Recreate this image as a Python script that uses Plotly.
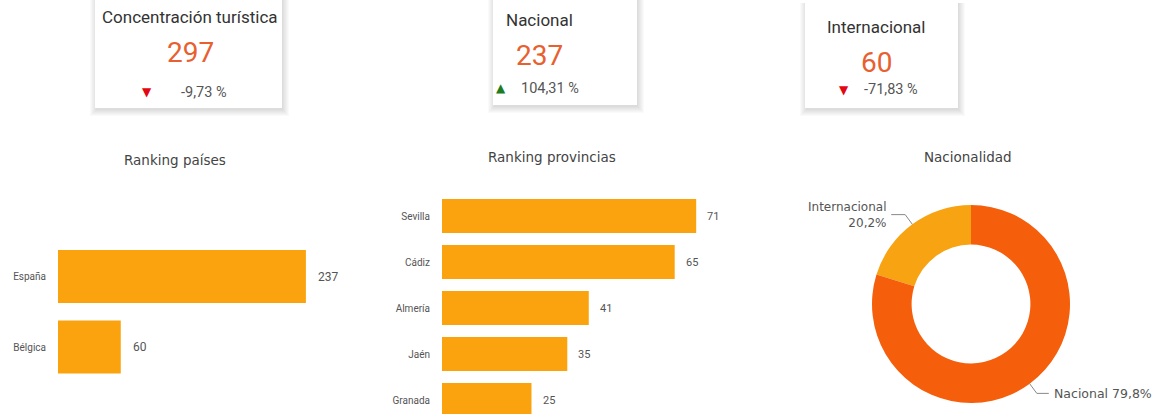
import math
import plotly.graph_objects as go

# ---------------- data ----------------
kpi_titles = ["Concentración turística", "Nacional", "Internacional"]
kpi_values = [297, 237, 60]
kpi_deltas = [-9.73, 104.31, -71.83]

countries = ["España", "Bélgica"]
country_values = [237, 60]

provinces = ["Sevilla", "Cádiz", "Almería", "Jaén", "Granada"]
province_values = [71, 65, 41, 35, 25]

nat_labels = ["Internacional", "Nacional"]
nat_values = [60, 237]

# ---------------- styling ----------------
W, H = 1162, 414
FONT = "Roboto, sans-serif"
TFONT = "DejaVu Sans, sans-serif"
BAR = "#FBA30F"
NAT = "#F55E0B"
INT = "#F8A312"
VAL_ORANGE = "#E8602F"
GRAY = "#555555"


def px(x):
    return x / W


def py(y):
    return 1 - y / H


fig = go.Figure()

# ---------------- bar chart 1: Ranking países ----------------
fig.add_trace(go.Bar(
    x=country_values, y=countries, orientation="h",
    marker=dict(color=BAR, line=dict(width=0)), width=0.75,
    xaxis="x", yaxis="y", hoverinfo="skip",
))
# ---------------- bar chart 2: Ranking provincias ----------------
fig.add_trace(go.Bar(
    x=province_values, y=provinces, orientation="h",
    marker=dict(color=BAR, line=dict(width=0)), width=0.74,
    xaxis="x2", yaxis="y2", hoverinfo="skip",
))

# ---------------- donut ----------------
cx, cy, r = 971, 304, 99
total = sum(nat_values)
first_deg = 360 * nat_values[0] / total
fig.add_trace(go.Pie(
    labels=nat_labels, values=nat_values, hole=0.6, sort=False,
    direction="clockwise", rotation=-first_deg,
    marker=dict(colors=[INT, NAT], line=dict(width=0)),
    textinfo="none", showlegend=False, hoverinfo="skip",
    domain=dict(x=[px(cx - r), px(cx + r)], y=[py(cy + r), py(cy - r)]),
))

annotations = []
shapes = []

# value labels for bars
for c, v in zip(countries, country_values):
    annotations.append(dict(x=v, y=c, xref="x", yref="y", text=str(v),
                            showarrow=False, xanchor="left", xshift=10,
                            font=dict(family=FONT, size=12, color=GRAY)))
for p, v in zip(provinces, province_values):
    annotations.append(dict(x=v, y=p, xref="x2", yref="y2", text=str(v),
                            showarrow=False, xanchor="left", xshift=9,
                            font=dict(family=FONT, size=11, color=GRAY)))

# section titles
for txt, x, y in [("Ranking países", 175, 160), ("Ranking provincias", 552, 157),
                  ("Nacionalidad", 968, 157)]:
    annotations.append(dict(x=px(x), y=py(y), xref="paper", yref="paper", text=txt,
                            showarrow=False, xanchor="center", yanchor="middle",
                            font=dict(family=TFONT, size=13.5, color="#444444")))

# donut labels with leader lines computed from slice angles (counterclockwise from top)
start = 0.0
for lab, v in zip(nat_labels, nat_values):
    frac = v / total
    mid = (start + frac / 2) * 2 * math.pi
    start += frac
    ex = cx - r * math.sin(mid)
    ey = cy - r * math.cos(mid)
    ox = cx - (r + 12) * math.sin(mid)
    oy = cy - (r + 12) * math.cos(mid)
    pct = f"{frac * 100:.1f}".replace(".", ",") + "%"
    if ex < cx:
        hx = ox - 14
        shapes.append(dict(type="path", xref="paper", yref="paper",
                           path=f"M {px(ex)},{py(ey)} L {px(ox)},{py(oy)} L {px(hx)},{py(oy)}",
                           line=dict(color="#888888", width=1)))
        annotations.append(dict(x=px(hx - 3), y=py(oy), xref="paper", yref="paper",
                                text=f"{lab}<br>{pct}", showarrow=False,
                                xanchor="right", yanchor="middle", align="right",
                                font=dict(family=TFONT, size=12, color=GRAY)))
    else:
        hx = ox + 12
        shapes.append(dict(type="path", xref="paper", yref="paper",
                           path=f"M {px(ex)},{py(ey)} L {px(ox)},{py(oy)} L {px(hx)},{py(oy)}",
                           line=dict(color="#888888", width=1)))
        annotations.append(dict(x=px(hx + 3), y=py(oy), xref="paper", yref="paper",
                                text=f"{lab} {pct}", showarrow=False,
                                xanchor="left", yanchor="middle",
                                font=dict(family=TFONT, size=12.5, color=GRAY)))

# ---------------- KPI cards ----------------
cards = [
    dict(box=(95, 0, 282, 108), tx=190, title_y=17, val_y=52, delta_y=92, arrow_x=147, dtext_x=179),
    dict(box=(493, 0, 637, 105), tx=539, title_y=20, val_y=55, delta_y=88, arrow_x=501, dtext_x=519),
    dict(box=(805, 3, 958, 108), tx=876, title_y=27, val_y=62, delta_y=90, arrow_x=844, dtext_x=862),
]
for card, t, v, d in zip(cards, kpi_titles, kpi_values, kpi_deltas):
    x0, y0, x1, y1 = card["box"]
    for i in range(7, 0, -1):
        shapes.append(dict(type="rect", xref="paper", yref="paper",
                           x0=px(x0 - i + 2), x1=px(x1 + i), y0=py(y1 + i + 1), y1=py(y0),
                           fillcolor="rgba(0,0,0,0.02)", line=dict(width=0), layer="below"))
    shapes.append(dict(type="rect", xref="paper", yref="paper",
                       x0=px(x0), x1=px(x1), y0=py(y1), y1=py(y0),
                       fillcolor="white", line=dict(width=0), layer="below"))
    cxm = card["tx"]
    annotations.append(dict(x=px(cxm), y=py(card["title_y"]), xref="paper", yref="paper",
                            text=t, showarrow=False, xanchor="center", yanchor="middle",
                            font=dict(family=FONT, size=17, color="#333333")))
    annotations.append(dict(x=px(cxm), y=py(card["val_y"]), xref="paper", yref="paper",
                            text=str(v), showarrow=False, xanchor="center", yanchor="middle",
                            font=dict(family=FONT, size=28, color=VAL_ORANGE)))
    up = d >= 0
    annotations.append(dict(x=px(card["arrow_x"]), y=py(card["delta_y"]), xref="paper", yref="paper",
                            text="▲" if up else "▼", showarrow=False, xanchor="center",
                            yanchor="middle",
                            font=dict(family="DejaVu Sans", size=12,
                                      color="#1E7B1E" if up else "#E30613")))
    dtxt = f"{d:.2f}".replace(".", ",") + " %"
    annotations.append(dict(x=px(card["dtext_x"]), y=py(card["delta_y"]), xref="paper", yref="paper",
                            text=dtxt, showarrow=False, xanchor="left", yanchor="middle",
                            font=dict(family=FONT, size=14.5, color="#555555")))

axis_hidden = dict(showgrid=False, zeroline=False, showticklabels=False, showline=False)

fig.update_layout(
    width=W, height=H, margin=dict(l=0, r=0, t=0, b=0),
    paper_bgcolor="white", plot_bgcolor="rgba(0,0,0,0)", showlegend=False,
    font=dict(family=FONT, color=GRAY),
    xaxis=dict(domain=[px(58), px(340)], range=[0, 282 / 1.046], **axis_hidden),
    yaxis=dict(domain=[py(382.25), py(241.25)], type="category", categoryarray=countries,
               range=[1.5, -0.5], showgrid=False, zeroline=False, showline=False,
               ticks="outside", ticklen=9, tickcolor="rgba(0,0,0,0)",
               tickfont=dict(family=FONT, size=10, color=GRAY), anchor="x"),
    xaxis2=dict(domain=[px(442), px(720)], range=[0, 278 / 3.58], anchor="y2", **axis_hidden),
    yaxis2=dict(domain=[0, py(193)], type="category", categoryarray=provinces,
                range=[(414 - 193) / 46 - 0.5, -0.5], showgrid=False, zeroline=False,
                showline=False, ticks="outside", ticklen=9, tickcolor="rgba(0,0,0,0)",
                tickfont=dict(family=FONT, size=10, color=GRAY), anchor="x2"),
    annotations=annotations, shapes=shapes,
)

fig.write_html("out.html", config={"displayModeBar": False},
               post_script="document.body.style.margin='0';document.body.style.padding='0';")
